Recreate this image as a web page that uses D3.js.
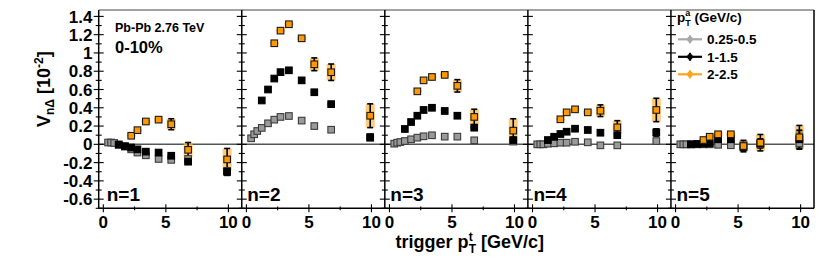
<!DOCTYPE html>
<html>
<head>
<meta charset="utf-8">
<script src="https://cdn.jsdelivr.net/npm/d3@7"></script>
<style>
  body { margin: 0; background: #fff; }
  svg { display: block; font-family: 'Liberation Sans', Arial, sans-serif; font-weight: bold; }
</style>
</head>
<body>
<svg id="chart" width="822" height="263"></svg>
<script>
// mean trigger pT of each bin
const triggerPt = [0.38, 0.62, 0.87, 1.23, 1.73, 2.23, 2.73, 3.4, 4.42, 5.43, 6.78, 9.9];
const harmonics = ['n=1', 'n=2', 'n=3', 'n=4', 'n=5'];
const yTickLabels = ['-0.6', '-0.4', '-0.2', '0', '0.2', '0.4', '0.6', '0.8', '1', '1.2', '1.4'];
const xTickLabels = ['0', '5', '10'];
const xMinorTicks = [2.5, 7.5];

// assoc pT 0.25-0.5, all 12 trigger bins
const grayVals = [
  [0.02, 0.02, 0.015, 0.0, -0.025, -0.055, -0.09, -0.12, -0.16, -0.17, -0.16, -0.29],
  [0.066, 0.11, 0.146, 0.18, 0.23, 0.27, 0.30, 0.31, 0.26, 0.20, 0.16, 0.07],
  [0.007, 0.018, 0.025, 0.036, 0.055, 0.073, 0.088, 0.099, 0.084, 0.084, 0.044, 0.03],
  [0, 0, 0, 0.007, 0.011, 0.018, 0.018, 0.028, 0.022, -0.011, -0.011, 0.036],
  [0, 0, 0, 0, 0, 0, 0, -0.005, -0.01, -0.01, 0, 0.01]
];

// assoc pT 1-1.5, trigger bins from 1-1.5 up
const blackVals = [
  [-0.005, -0.02, -0.035, -0.055, -0.08, -0.09, -0.125, -0.19, -0.30],
  [0.48, 0.60, 0.72, 0.79, 0.81, 0.70, 0.57, 0.44, 0.08],
  [0.168, 0.244, 0.313, 0.376, 0.40, 0.365, 0.313, 0.182, 0.047],
  [0.047, 0.083, 0.113, 0.138, 0.171, 0.157, 0.127, 0.10, 0.13],
  [0, 0.005, 0.008, 0.01, 0.055, 0.055, -0.03, 0.01, 0.055]
];
const blackErr = [
  [0, 0, 0, 0, 0, 0.01, 0.015, 0.03, 0.04],
  [0, 0, 0, 0, 0, 0, 0.01, 0.02, 0.03],
  [0, 0, 0, 0, 0, 0, 0, 0.02, 0.03],
  [0, 0, 0, 0, 0, 0, 0, 0.02, 0.04],
  [0.005, 0.005, 0.01, 0.015, 0.05, 0.06, 0.02, 0.05, 0.1]
];

// assoc pT 2-2.5, trigger bins from 2-2.5 up
const orangeVals = [
  [0.094, 0.155, 0.25, 0.27, 0.22, -0.06, -0.165],
  [1.106, 1.244, 1.314, 1.16, 0.876, 0.789, 0.313],
  [0.58, 0.70, 0.737, 0.76, 0.64, 0.30, 0.15],
  [0.274, 0.35, 0.383, 0.35, 0.368, 0.186, 0.376],
  [0.047, 0.083, 0.11, 0.11, -0.019, 0.018, 0.077]
];
const orangeErr = [
  [0.01, 0.01, 0.015, 0.02, 0.06, 0.08, 0.12],
  [0.01, 0.01, 0.015, 0.02, 0.07, 0.09, 0.13],
  [0.01, 0.01, 0.01, 0.015, 0.068, 0.084, 0.13],
  [0.01, 0.01, 0.01, 0.015, 0.064, 0.073, 0.128],
  [0.01, 0.015, 0.02, 0.02, 0.063, 0.09, 0.13]
];

const series = [
  { label: '0.25-0.5', vals: grayVals, err: null, fill: '#9a9a9a', stroke: '#3c3c3c', box: '#9a9a9a', boxW: 7, boxOp: 1, key: '#a8a8a8' },
  { label: '1-1.5', vals: blackVals, err: blackErr, fill: '#000', stroke: '#000', box: '#000', boxW: 7, boxOp: 1, key: '#000' },
  { label: '2-2.5', vals: orangeVals, err: orangeErr, fill: '#ff9900', stroke: '#1a1a1a', box: '#ffb84d', boxW: 9, boxOp: 0.75, key: '#ffa31a' }
];

const svg = d3.select('#chart');

const panel = d3.scaleBand().domain(harmonics).range([98.7, 814]);
const pw = panel.bandwidth();
const x = d3.scaleLinear().domain([-0.37, 11.07]).range([0, pw]);
const y = d3.scaleLinear().domain([-0.7, 1.47]).range([208.3, 10]);

const yMajor = yTickLabels.map(Number);
const yMinor = y.ticks(20).filter(t => !yMajor.some(m => Math.abs(m - t) < 1e-6));

harmonics.forEach((h, i) => {
  const g = svg.append('g').attr('transform', `translate(${panel(h)},0)`);

  const pts = series.map(s => {
    const v = s.vals[i];
    const pt = triggerPt.slice(triggerPt.length - v.length);
    return v.map((d, j) => ({ x: pt[j], v: d, e: s.err ? s.err[i][j] : 0, s: s }));
  });
  const flat = pts.flat();

  // zero line
  g.append('line')
    .attr('x1', 0).attr('x2', pw)
    .attr('y1', y(0)).attr('y2', y(0))
    .attr('stroke', '#555').attr('stroke-width', 1.5);

  // systematic boxes
  g.selectAll('rect.box')
    .data(flat.filter(d => d.e > 0))
    .enter().append('rect')
    .attr('class', 'box')
    .attr('x', d => x(d.x) - d.s.boxW / 2)
    .attr('width', d => d.s.boxW)
    .attr('y', d => y(d.v + d.e))
    .attr('height', d => y(d.v - d.e) - y(d.v + d.e))
    .attr('fill', d => d.s.box)
    .attr('opacity', d => d.s.boxOp);

  // stat error bars
  const bars = g.selectAll('g.err')
    .data(flat.filter(d => d.e > 0.03))
    .enter().append('g')
    .attr('class', 'err')
    .attr('stroke', '#000')
    .attr('stroke-width', 1.6);
  bars.append('line')
    .attr('x1', d => x(d.x)).attr('x2', d => x(d.x))
    .attr('y1', d => y(d.v + d.e)).attr('y2', d => y(d.v - d.e));
  bars.append('line')
    .attr('x1', d => x(d.x) - 3).attr('x2', d => x(d.x) + 3)
    .attr('y1', d => y(d.v + d.e)).attr('y2', d => y(d.v + d.e));
  bars.append('line')
    .attr('x1', d => x(d.x) - 3).attr('x2', d => x(d.x) + 3)
    .attr('y1', d => y(d.v - d.e)).attr('y2', d => y(d.v - d.e));

  // markers
  pts.forEach(p => {
    g.selectAll(null)
      .data(p)
      .enter().append('rect')
      .attr('x', d => x(d.x) - 3.3)
      .attr('y', d => y(d.v) - 3.3)
      .attr('width', 6.6)
      .attr('height', 6.6)
      .attr('fill', d => d.s.fill)
      .attr('stroke', d => d.s.stroke)
      .attr('stroke-width', 1.1);
  });

  // left edge ticks
  g.selectAll(null).data(yMajor).enter().append('line')
    .attr('x1', -5).attr('x2', 5)
    .attr('y1', d => y(d)).attr('y2', d => y(d))
    .attr('stroke', '#000').attr('stroke-width', 1.1);
  g.selectAll(null).data(yMinor).enter().append('line')
    .attr('x1', -3).attr('x2', 3)
    .attr('y1', d => y(d)).attr('y2', d => y(d))
    .attr('stroke', '#000').attr('stroke-width', 1.1);

  // bottom ticks
  g.selectAll(null).data(xTickLabels.map(Number)).enter().append('line')
    .attr('x1', d => x(d)).attr('x2', d => x(d))
    .attr('y1', 204.3).attr('y2', 212.3)
    .attr('stroke', '#000').attr('stroke-width', 1.1);
  g.selectAll(null).data(xMinorTicks).enter().append('line')
    .attr('x1', d => x(d)).attr('x2', d => x(d))
    .attr('y1', 206.5).attr('y2', 210.2)
    .attr('stroke', '#000').attr('stroke-width', 1.1);

  g.selectAll(null).data(xTickLabels).enter().append('text')
    .attr('x', d => x(+d))
    .attr('y', 227.5)
    .attr('text-anchor', 'middle')
    .style('font-size', '17px')
    .text(d => d);

  // frame
  g.append('line')
    .attr('x1', 0).attr('x2', pw).attr('y1', 10).attr('y2', 10)
    .attr('stroke', '#444').attr('stroke-width', 1);
  g.append('line')
    .attr('x1', 0).attr('x2', pw).attr('y1', 208.3).attr('y2', 208.3)
    .attr('stroke', '#000').attr('stroke-width', 1.5);
  g.append('line')
    .attr('x1', 0).attr('x2', 0).attr('y1', 10).attr('y2', 208.3)
    .attr('stroke', '#000').attr('stroke-width', 1.5);
  if (i === harmonics.length - 1) {
    g.append('line')
      .attr('x1', pw).attr('x2', pw).attr('y1', 10).attr('y2', 208.3)
      .attr('stroke', '#000').attr('stroke-width', 1.5);
  }

  g.append('text')
    .attr('x', i === 0 ? 8 : 5.5)
    .attr('y', 200.5)
    .style('font-size', '19px')
    .text(h);
});

// y tick labels
svg.selectAll(null).data(yTickLabels).enter().append('text')
  .attr('x', 92.5)
  .attr('y', d => y(+d))
  .attr('dy', '0.36em')
  .attr('text-anchor', 'end')
  .style('font-size', '17px')
  .text(d => d);

// y title
const yTitle = svg.append('text')
  .attr('transform', 'translate(50,127) rotate(-90)')
  .style('font-size', '18px');
yTitle.append('tspan').text('V');
yTitle.append('tspan').attr('dy', 4).style('font-size', '12px').text('nΔ');
yTitle.append('tspan').attr('dy', -4).attr('dx', 5).text('[10');
yTitle.append('tspan').attr('dy', -7).style('font-size', '12px').text('-2');
yTitle.append('tspan').attr('dy', 7).text(']');

// x title
const xTitle = svg.append('text')
  .attr('x', 544).attr('y', 248)
  .attr('text-anchor', 'end')
  .style('font-size', '18px');
xTitle.append('tspan').text('trigger p');
xTitle.append('tspan').attr('dy', -7).style('font-size', '12px').text('t');
xTitle.append('tspan').attr('dx', -4).attr('dy', 12).style('font-size', '12px').text('T');
xTitle.append('tspan').attr('dy', -5).text(' [GeV/c]');

// labels in first panel
svg.append('text').attr('x', 115).attr('y', 31.5).style('font-size', '12.5px').text('Pb-Pb 2.76 TeV');
svg.append('text').attr('x', 115).attr('y', 52.5).style('font-size', '16.5px').text('0-10%');

// legend
const head = svg.append('text').attr('x', 677).attr('y', 22).style('font-size', '13.5px');
head.append('tspan').text('p');
head.append('tspan').attr('dy', -6).style('font-size', '9px').text('a');
head.append('tspan').attr('dx', -5).attr('dy', 10).style('font-size', '9px').text('T');
head.append('tspan').attr('dy', -4).text(' (GeV/c)');

const legendScale = d3.scalePoint().domain(series.map(s => s.label)).range([39.3, 74.3]);
const keys = svg.selectAll('g.key')
  .data(series)
  .enter().append('g')
  .attr('class', 'key')
  .attr('transform', d => `translate(0,${legendScale(d.label)})`);
keys.append('line')
  .attr('x1', 678).attr('x2', 702).attr('y1', 0).attr('y2', 0)
  .attr('stroke', d => d.key).attr('stroke-width', 2.2);
keys.append('line')
  .attr('x1', 690).attr('x2', 690).attr('y1', -4).attr('y2', 4)
  .attr('stroke', d => d.key).attr('stroke-width', 2.2);
keys.append('circle')
  .attr('cx', 690).attr('cy', 0).attr('r', 2.8)
  .attr('fill', d => d.key);
keys.append('text')
  .attr('x', 707).attr('y', 5)
  .style('font-size', '13.5px')
  .text(d => d.label);
</script>
</body>
</html>
